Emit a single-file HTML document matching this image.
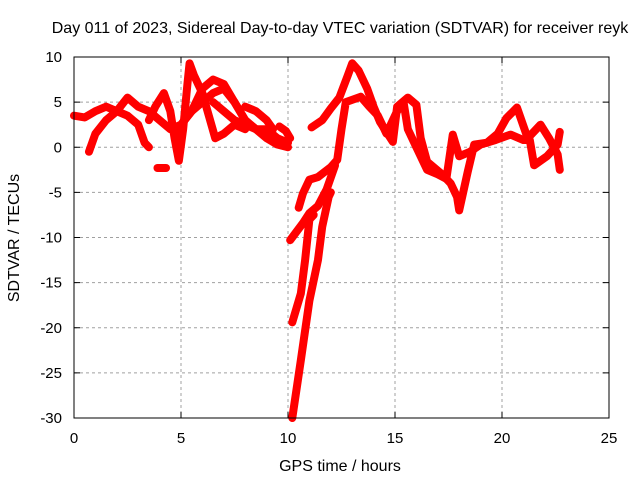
<!DOCTYPE html>
<html><head><meta charset="utf-8"><style>
body{margin:0;background:#fff}
svg{display:block;font-family:"Liberation Sans",sans-serif}
</style></head><body>
<svg id="chart" width="640" height="480">
<rect width="640" height="480" fill="#fff"/>
<g id="grid"></g>
<g id="series"></g>
<rect x="74" y="57" width="535" height="361" fill="none" stroke="#000" stroke-width="1"/>
<g id="ticks"></g>
<text x="340" y="33" font-size="16" text-anchor="middle">Day 011 of 2023, Sidereal Day-to-day VTEC variation (SDTVAR) for receiver reyk</text>
<text x="340" y="471" font-size="16" text-anchor="middle">GPS time / hours</text>
<text x="0" y="0" font-size="16" text-anchor="middle" transform="translate(19,238) rotate(-90)">SDTVAR / TECUs</text>
</svg>
<script>
const xTicks=[0,5,10,15,20,25];
const yTicks=[-30,-25,-20,-15,-10,-5,0,5,10];
const track1=[[0,3.5],[0.5,3.3],[1,4],[1.5,4.5],[2,4],[2.5,5.5],[3,4.5],[3.5,4],[4,3],[4.5,2],[5,2.5],[5.5,4],[6,6.5],[6.5,7.5],[7,7],[7.5,5],[8,3],[8.5,2],[9,2],[9.5,1],[10,0.5]];
const track2=[[0.7,-0.5],[1,1.5],[1.5,3],[2,4],[2.5,3.5],[3,2.5],[3.3,0.5],[3.5,0]];
const track3=[[3.5,3],[3.8,4.5],[4.2,6],[4.5,4],[4.7,1],[4.9,-1.5],[5.1,2],[5.3,7],[5.4,9.3],[5.6,8],[6,6],[6.3,3.5],[6.6,1],[7,1.5],[7.5,2.5],[8,2]];
const track4=[[4.8,0],[5,2.5],[5.5,4],[6,5],[6.5,6],[7,6.5],[7.5,5],[8,3],[8.5,2],[9,1],[9.5,0.3],[10,0]];
const track5=[[6.5,5],[7,4],[7.5,3],[8,2.5],[8.5,2],[9,1.5],[9.5,1]];
const track6=[[8,4.5],[8.5,4],[9,3],[9.3,2]];
const track7=[[3.9,-2.3],[4.3,-2.3]];
const track8=[[9.6,2.3],[9.9,1.8],[10.1,1]];
const track9=[[11.1,2.2],[11.6,3],[12,4.3],[12.4,5.5],[12.8,8],[13,9.3],[13.3,8.5],[13.7,6.5],[14,4.5],[14.3,2.8],[14.9,0.6],[15.1,4.5],[15.6,5.5],[16,4.7],[16.2,1],[16.5,-1.6],[17.2,-3],[17.6,-4],[17.9,-5.5],[18,-7],[18.4,-2.7],[18.7,0.3],[19.3,0.5],[19.8,1.5],[20.2,3.2],[20.7,4.4],[21.2,1],[21.8,2.5],[22.2,1],[22.6,-0.8],[22.7,-2.5]];
const track10=[[10.5,-6.7],[10.7,-5.1],[11,-3.6],[11.4,-3.3],[12,-2.2],[12.3,-1.4],[12.5,2],[12.7,5],[13.4,5.6],[13.8,4.5],[14.2,3.5],[14.6,1.5],[15.1,4],[15.4,5],[15.6,2],[16,0],[16.5,-2.5],[17,-3],[17.4,-3.5],[17.7,1.4],[18,-1],[18.5,-0.5],[19,0.3],[19.7,0.8],[20.4,1.4],[21,0.8],[21.3,0.8],[21.5,-2],[22.1,-1],[22.6,0.3],[22.7,1.7]];
const track11=[[10.1,-10.3],[10.7,-8.4],[11,-7.3],[11.4,-6.5],[11.8,-4.7],[12.2,-2]];
const track12=[[10.2,-19.4],[10.6,-16.2],[10.8,-12.5],[11,-8],[11.2,-7.5]];
const track13=[[10.2,-30],[10.6,-23.6],[11,-17],[11.4,-12.5],[11.6,-8.8],[11.9,-5.5],[12,-5]];
const tracks=[track1,track2,track3,track4,track5,track6,track7,track8,track9,track10,track11,track12,track13];
const X0=74,X1=609,Y0=418,Y1=57;
const xs=h=>X0+(h-0)/(25-0)*(X1-X0);
const ys=v=>Y0-(v+30)/(40)*(Y0-Y1);
const NS="http://www.w3.org/2000/svg";
const grid=document.getElementById('grid'),ticks=document.getElementById('ticks'),ser=document.getElementById('series');
function mk(tag,attrs,parent){const e=document.createElementNS(NS,tag);for(const k in attrs)e.setAttribute(k,attrs[k]);parent.appendChild(e);return e;}
xTicks.forEach(t=>{const x=xs(t);
 if(t>0&&t<25){const g=mk('line',{x1:x,x2:x,y1:Y1,y2:Y0,stroke:'#a0a0a0','stroke-dasharray':'3,3'},grid);
 
 }
 const l=mk('text',{x:x,y:443,'font-size':15,'text-anchor':'middle'},ticks);l.textContent=t;
 
 
 mk('line',{x1:x,x2:x,y1:Y0,y2:Y0-6,stroke:'#000'},ticks);mk('line',{x1:x,x2:x,y1:Y1,y2:Y1+6,stroke:'#000'},ticks);});
yTicks.forEach(t=>{const y=ys(t);
 if(t>-30&&t<10){const g=mk('line',{x1:X0,x2:X1,y1:y,y2:y,stroke:'#a0a0a0','stroke-dasharray':'3,3'},grid);
 
 }
 const l=mk('text',{x:62,y:y+5,'font-size':15,'text-anchor':'end'},ticks);l.textContent=t;
 
 
 mk('line',{x1:X0,x2:X0+6,y1:y,y2:y,stroke:'#000'},ticks);mk('line',{x1:X1,x2:X1-6,y1:y,y2:y,stroke:'#000'},ticks);});
tracks.forEach((tr,i)=>{const p=mk('polyline',{points:tr.map(d=>xs(d[0])+','+ys(d[1])).join(' '),fill:'none',stroke:'#f00','stroke-width':8,'stroke-linejoin':'round','stroke-linecap':'round'},ser);
 
 });
</script>
</body></html>
